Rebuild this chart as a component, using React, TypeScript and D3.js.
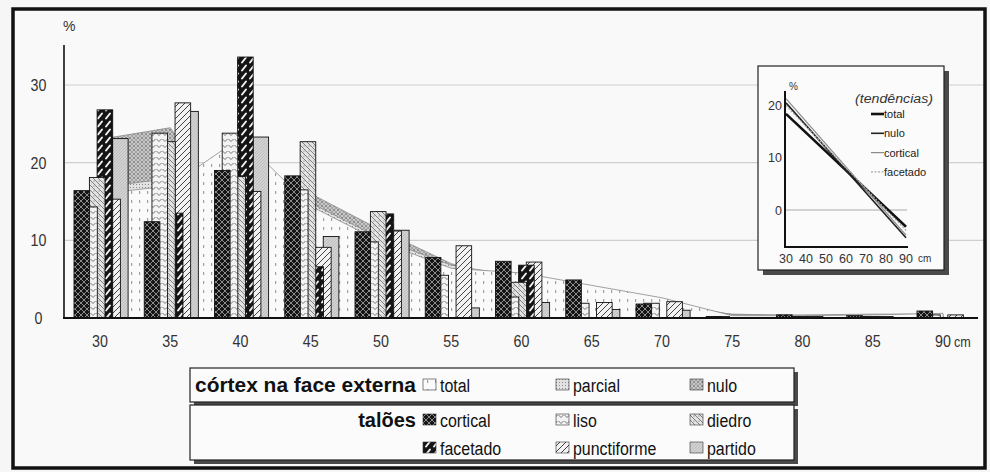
import React from "react";
import * as d3 from "d3";

// Length classes (cm)
const lengths = [30, 35, 40, 45, 50, 55, 60, 65, 70, 75, 80, 85, 90];
const yTicks = [0, 10, 20, 30];
const gridTicks = [10, 20, 30];

// córtex na face externa (%), drawn as areas
const cortexTotal = [16, 17, 23.2, 14.4, 9.8, 6.4, 5.8, 4.2, 2.6, 0.3, 0.3, 0.4, 0.6];
const cortexParcial = [16.8, 18, 21, 14.8, 10.2, 6.8, 5.3, 3.6, 2.2, 0.4, 0.4, 0.5, 0.5];
const cortexNulo = [23, 24.5, 12, 16, 11.3, 7, 4.4, 2.6, 1.5, 0.5, 0.3, 0.3, 0.3];

// talões (%), drawn as overlapping columns
const talaoCortical = [16.4, 12.4, 19.0, 18.3, 11.1, 7.8, 7.3, 4.9, 1.8, 0.2, 0.4, 0.3, 0.9];
const talaoLiso = [14.3, 23.8, 23.8, 16.5, 9.8, 5.5, 2.7, 1.9, 1.9, 0.2, 0.2, 0.2, 0.4];
const talaoDiedro = [18.1, 22.7, 18.2, 22.7, 13.7, 0, 4.6, 0, 0, 0, 0.2, 0.2, 0];
const talaoFacetado = [26.8, 13.5, 33.6, 6.6, 13.4, 0, 6.8, 0, 0, 0, 0, 0, 0];
const talaoPunctiforme = [15.3, 27.7, 16.3, 9.1, 11.2, 9.3, 7.2, 2.0, 2.1, 0, 0.2, 0.2, 0.4];
const talaoPartido = [23.1, 26.6, 23.3, 10.5, 11.3, 1.3, 2.0, 1.1, 1.0, 0, 0, 0, 0];

// Linear trends (tendências), value at 30 cm and 90 cm
const trendX = [30, 90];
const trendTotal = [18.3, -3.2];
const trendNulo = [20.4, -5.3];
const trendCortical = [21.2, -4.8];
const trendFacetado = [19.9, -3.9];
const insetYTicks = [0, 10, 20];
const insetXTicks = [30, 40, 50, 60, 70, 80, 90];

const talaoSeries = [
  { key: "cortical", values: talaoCortical, fill: "url(#p-cortical)" },
  { key: "liso", values: talaoLiso, fill: "url(#p-liso)" },
  { key: "diedro", values: talaoDiedro, fill: "url(#p-diedro)" },
  { key: "facetado", values: talaoFacetado, fill: "url(#p-facetado)" },
  { key: "punctiforme", values: talaoPunctiforme, fill: "url(#p-punctiforme)" },
  { key: "partido", values: talaoPartido, fill: "url(#p-partido)" },
];

const cortexSeries = [
  { key: "nulo", values: cortexNulo, fill: "url(#p-nulo)" },
  { key: "parcial", values: cortexParcial, fill: "url(#p-parcial)" },
  { key: "total", values: cortexTotal, fill: "url(#p-total)" },
];

const trendSeries = [
  { key: "total", values: trendTotal, stroke: "#111", width: 2.6, dash: "" },
  { key: "nulo", values: trendNulo, stroke: "#222", width: 1.6, dash: "" },
  { key: "cortical", values: trendCortical, stroke: "#8a8a8a", width: 1.2, dash: "" },
  { key: "facetado", values: trendFacetado, stroke: "#a8a8a8", width: 1.2, dash: "2 1.5" },
];

const legendRows = [
  [
    { label: "total", fill: "url(#p-total)" },
    { label: "parcial", fill: "url(#p-parcial)" },
    { label: "nulo", fill: "url(#p-nulo)" },
  ],
  [
    { label: "cortical", fill: "url(#p-cortical)" },
    { label: "liso", fill: "url(#p-liso)" },
    { label: "diedro", fill: "url(#p-diedro)" },
  ],
  [
    { label: "facetado", fill: "url(#p-facetado)" },
    { label: "punctiforme", fill: "url(#p-punctiforme)" },
    { label: "partido", fill: "url(#p-partido)" },
  ],
];

const W = 990;
const H = 472;
const FONT = "'Liberation Sans', Arial, sans-serif";
const NARROW = 0.84;

const x = d3.scaleLinear().domain([30, 90]).range([100, 943]);
const y = d3.scaleLinear().domain([0, 30]).range([318, 85]);
const barOffset = d3
  .scalePoint<string>()
  .domain(talaoSeries.map((s) => s.key))
  .range([-26, 12.5]);
const barWidth = 15.6;

const ix = d3.scaleLinear().domain([30, 90]).range([786, 906]);
const iy = d3.scaleLinear().domain([0, 20]).range([210, 105]);

const areaGen = d3
  .area<number>()
  .x((_, i) => x(lengths[i]))
  .y0(y(0))
  .y1((d) => y(d));

const trendLine = d3
  .line<number>()
  .x((_, i) => ix(trendX[i]))
  .y((d) => iy(d));

// condensed text: horizontally squeezed around its anchor point
function Narrow({
  x: tx,
  y: ty,
  size,
  anchor = "start",
  children,
  ...rest
}: {
  x: number;
  y: number;
  size: number;
  anchor?: string;
  children: React.ReactNode;
  [k: string]: unknown;
}) {
  return (
    <text
      transform={`translate(${tx},${ty}) scale(${NARROW},1)`}
      fontSize={size}
      textAnchor={anchor}
      {...rest}
    >
      {children}
    </text>
  );
}

function Patterns() {
  return (
    <defs>
      <pattern id="p-cortical" width="6" height="6" patternUnits="userSpaceOnUse">
        <rect width="6" height="6" fill="#151515" />
        <path d="M0,0 L6,6 M6,0 L0,6" stroke="#9a9a9a" strokeWidth="0.9" />
      </pattern>
      <pattern id="p-facetado" width="8" height="8" patternUnits="userSpaceOnUse">
        <rect width="8" height="8" fill="#141414" />
        <path d="M2,6.5 L6,1.5" stroke="#f2f2f2" strokeWidth="2" strokeLinecap="round" />
      </pattern>
      <pattern id="p-liso" width="6" height="6" patternUnits="userSpaceOnUse">
        <rect width="6" height="6" fill="#f3f3f3" />
        <path d="M0.5,1 L3,3.5 L5.5,1" stroke="#555" strokeWidth="0.8" fill="none" />
      </pattern>
      <pattern id="p-diedro" width="5" height="5" patternUnits="userSpaceOnUse">
        <rect width="5" height="5" fill="#e3e3e3" />
        <path d="M0,0 L5,5" stroke="#666" strokeWidth="0.8" />
        <circle cx="4" cy="1" r="0.5" fill="#555" />
      </pattern>
      <pattern id="p-punctiforme" width="6" height="6" patternUnits="userSpaceOnUse">
        <rect width="6" height="6" fill="#f2f2f2" />
        <path d="M0,6 L6,0 M-1,1 L1,-1 M5,7 L7,5" stroke="#444" strokeWidth="1" />
      </pattern>
      <pattern id="p-partido" width="3" height="3" patternUnits="userSpaceOnUse">
        <rect width="3" height="3" fill="#d2d2d2" />
        <path d="M0,3 L3,0" stroke="#b0b0b0" strokeWidth="0.6" />
      </pattern>
      <pattern id="p-total" width="8" height="9" patternUnits="userSpaceOnUse">
        <rect width="8" height="9" fill="#fafafa" />
        <rect x="3" y="2" width="1.2" height="3" fill="#a0a0a0" />
      </pattern>
      <pattern id="p-parcial" width="3" height="3" patternUnits="userSpaceOnUse">
        <rect width="3" height="3" fill="#e2e2e2" />
        <rect x="1" y="1" width="1" height="1" fill="#8a8a8a" />
      </pattern>
      <pattern id="p-nulo" width="4" height="4" patternUnits="userSpaceOnUse">
        <rect width="4" height="4" fill="#c8c8c8" />
        <path d="M0,0 L4,4 M4,0 L0,4" stroke="#888" strokeWidth="0.6" />
        <rect x="1.5" y="1.5" width="1" height="1" fill="#555" />
      </pattern>
    </defs>
  );
}

export default function App() {
  const legendColX = [423, 556, 690];
  const legendRowY = [385, 420, 448];

  return (
    <svg
      width={W}
      height={H}
      viewBox={`0 0 ${W} ${H}`}
      style={{ position: "absolute", left: 0, top: 0, background: "#f6f6f6" }}
      fontFamily={FONT}
    >
      <Patterns />
      <rect x={13} y={9} width={972} height={459} fill="#f9f9f9" />

      {/* horizontal gridlines */}
      {gridTicks.map((t) => (
        <line key={t} x1={65} x2={985} y1={y(t)} y2={y(t)} stroke="#cfcfcf" strokeWidth={1.2} />
      ))}

      {/* córtex areas */}
      {cortexSeries.map((s) => (
        <path key={s.key} d={areaGen(s.values) || ""} fill={s.fill} stroke="#8a8a8a" strokeWidth={0.8} />
      ))}

      {/* talões columns: the first series sits in front */}
      {[...talaoSeries].reverse().map((s) => (
        <g key={s.key}>
          {s.values.map((v, i) =>
            v > 0 ? (
              <rect
                key={i}
                x={x(lengths[i]) + (barOffset(s.key) || 0)}
                y={y(v)}
                width={barWidth}
                height={y(0) - y(v)}
                fill={s.fill}
                stroke="#111"
                strokeWidth={0.9}
              />
            ) : null
          )}
        </g>
      ))}

      {/* axes */}
      <line x1={64} x2={64} y1={45} y2={319} stroke="#111" strokeWidth={1.6} />
      <line x1={63} x2={978} y1={y(0)} y2={y(0)} stroke="#111" strokeWidth={2.2} />
      <text x={63} y={31} fontSize={14} fill="#333">%</text>
      {yTicks.map((t) => (
        <Narrow key={t} x={38.5} y={y(t) + 6} size={17} anchor="middle" fill="#333">
          {t}
        </Narrow>
      ))}
      {lengths.map((l) => (
        <Narrow key={l} x={x(l)} y={347} size={17} anchor="middle" fill="#333">
          {l}
        </Narrow>
      ))}
      <Narrow x={x(90) + 11} y={347} size={15} fill="#333">
        cm
      </Narrow>

      {/* inset: tendências */}
      <rect x={763} y={71} width={186} height={204} fill="#4a4a4a" />
      <rect x={758} y={66} width={186} height={204} fill="#fbfbfb" stroke="#222" strokeWidth={1.2} />
      <line x1={785} x2={907} y1={iy(0)} y2={iy(0)} stroke="#aaa" strokeWidth={1} />
      {trendSeries.map((s) => (
        <path
          key={s.key}
          d={trendLine(s.values) || ""}
          fill="none"
          stroke={s.stroke}
          strokeWidth={s.width}
          strokeDasharray={s.dash}
        />
      ))}
      <line x1={785} x2={785} y1={91} y2={248} stroke="#111" strokeWidth={2} />
      <line x1={784} x2={908} y1={247} y2={247} stroke="#111" strokeWidth={2} />
      <text x={789} y={90} fontSize={10} fill="#333">%</text>
      {insetYTicks.map((t) => (
        <text key={t} x={782} y={iy(t) + 4.5} fontSize={12.5} fill="#333" textAnchor="end">
          {t}
        </text>
      ))}
      {insetXTicks.map((t) => (
        <text key={t} x={ix(t)} y={263} fontSize={12.5} fill="#333" textAnchor="middle">
          {t}
        </text>
      ))}
      <text x={918} y={262} fontSize={10} fill="#333">cm</text>
      <text
        x={855}
        y={103}
        fontSize={12}
        fill="#333"
        fontStyle="italic"
        textLength={78}
        lengthAdjust="spacingAndGlyphs"
      >
        (tendências)
      </text>
      {trendSeries.map((s, i) => {
        const ty = 118 + i * 19.3;
        return (
          <g key={s.key}>
            <line x1={871} x2={884} y1={ty - 4} y2={ty - 4} stroke={s.stroke} strokeWidth={s.width} strokeDasharray={s.dash} />
            <text x={884} y={ty} fontSize={11} fill="#222">{s.key}</text>
          </g>
        );
      })}

      {/* legend */}
      <rect x={194} y={372} width={604} height={34} fill="#4a4a4a" />
      <rect x={190} y={368} width={604} height={34} fill="#fbfbfb" stroke="#222" strokeWidth={1.2} />
      <rect x={194} y={409} width={604} height={55} fill="#4a4a4a" />
      <rect x={190} y={405} width={604} height={55} fill="#fbfbfb" stroke="#222" strokeWidth={1.2} />
      <text
        x={195}
        y={legendRowY[0] + 7}
        fontSize={20}
        fontWeight="bold"
        fill="#111"
        textLength={221}
        lengthAdjust="spacingAndGlyphs"
      >
        córtex na face externa
      </text>
      <text x={416} y={legendRowY[1] + 7} fontSize={20} fontWeight="bold" fill="#111" textAnchor="end">
        talões
      </text>
      {legendRows.map((row, r) =>
        row.map((item, c) => (
          <g key={item.label}>
            <rect
              x={legendColX[c]}
              y={legendRowY[r] - 6}
              width={13}
              height={11}
              fill={item.fill}
              stroke="#333"
              strokeWidth={0.6}
            />
            <Narrow x={legendColX[c] + 17} y={legendRowY[r] + 7} size={19} fill="#111">
              {item.label}
            </Narrow>
          </g>
        ))
      )}

      {/* outer frame */}
      <rect x={13} y={9} width={972} height={459} fill="none" stroke="#111" strokeWidth={3.5} />
    </svg>
  );
}
